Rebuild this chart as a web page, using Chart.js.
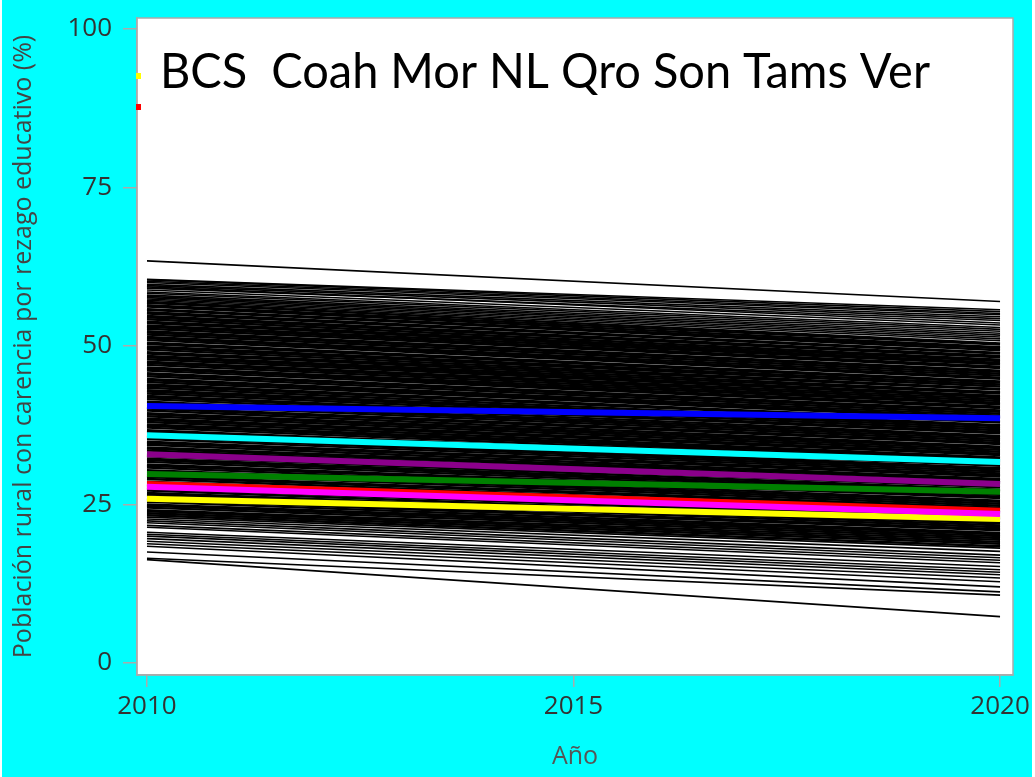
<!DOCTYPE html>
<html>
<head>
<meta charset="utf-8">
<script src="https://cdn.jsdelivr.net/npm/chart.js@4/dist/chart.umd.min.js"></script>
<style>
  html, body { margin: 0; padding: 0; background: #ffffff; }
  #frame { position: absolute; left: 2px; top: 0; width: 1030px; height: 777px; background: #00ffff; }
  #c { position: absolute; left: 0; top: 0; }
</style>
</head>
<body>
<div id="frame"></div>
<canvas id="c" width="1035" height="777"></canvas>
<script>
// ---- data ----
const years = [2010, 2020];
const xTicks = [2010, 2015, 2020];
const yTicks = [0, 25, 50, 75, 100];
const titleText = "BCS  Coah Mor NL Qro Son Tams Ver";
const yTitle = "Población rural con carencia por rezago educativo (%)";
const xTitle = "Año";

// municipalities (black lines): value in 2010 and 2020
const muni2010 = [
  63.4, 60.5, 60.4, 60.2, 60.0, 59.7, 59.5, 59.3, 59.1, 58.8, 58.5, 58.3, 58.0, 57.8, 57.6, 57.4, 57.2, 57.0,
  56.8, 56.4, 56.2, 55.8, 55.7, 55.3, 55.1, 54.7, 54.5, 54.2,
  53.8, 53.6, 53.2, 53.0, 52.7, 52.3, 52.1, 51.8, 51.4, 51.2,
  50.9, 50.5, 50.3, 49.9, 49.7, 49.4, 49.0, 48.8, 48.4, 48.2,
  47.9, 47.5, 47.3, 47.0, 46.6, 46.4, 46.1, 45.7, 45.5, 45.2,
  44.8, 44.6, 44.3, 43.9, 43.7, 43.4, 43.0, 42.8, 42.5, 42.1,
  41.9, 41.6, 41.2, 41.0, 40.7, 40.3, 40.1, 39.8, 39.4, 39.2,
  38.9, 38.5, 38.3, 38.0, 37.6, 37.4, 37.1, 36.7, 36.5, 36.2,
  35.8, 35.6, 35.3, 34.9, 34.7, 34.4, 34.0, 33.8, 33.5, 33.1,
  32.9, 32.6, 32.2, 32.0, 31.7, 31.3, 31.1, 30.8, 30.4, 30.2,
  29.9, 29.5, 29.3, 29.0, 28.6, 28.4, 28.1, 27.7, 27.5, 27.2,
  26.8, 26.6, 26.3, 25.9, 25.7, 25.4, 25.0, 24.8, 24.5, 24.1,
  23.9, 23.6, 23.3,
  23.0, 22.7, 22.4, 22.1, 21.7, 21.4, 20.6, 20.3, 20.0, 19.6, 19.2, 18.8, 18.4, 17.5, 16.5, 16.3
];
const muni2020 = [
  57.0, 55.7, 55.4, 55.1, 54.9, 54.6, 54.3, 53.6, 54.0, 53.3, 52.9, 52.6, 52.3, 52.0, 51.7, 51.4, 51.1, 50.8,
  50.4, 50.2, 49.8, 49.6, 49.3, 48.9, 48.8, 48.4, 48.2, 47.8,
  47.6, 47.3, 47.1, 46.7, 46.5, 46.1, 45.9, 45.6, 45.3, 45.0,
  44.8, 44.4, 44.2, 43.9, 43.6, 43.2, 43.1, 42.7, 42.5, 42.1,
  41.9, 41.6, 41.3, 41.0, 40.8, 40.4, 40.2, 39.8, 39.6, 39.3,
  39.0, 38.7, 38.5, 38.1, 37.9, 37.5, 37.3, 37.0, 36.7, 36.4,
  36.2, 35.8, 35.6, 35.3, 35.0, 34.7, 34.5, 34.1, 33.9, 33.6,
  33.3, 33.0, 32.8, 32.4, 32.2, 31.9, 31.6, 31.3, 31.1, 30.7,
  30.5, 30.2, 29.9, 29.6, 29.4, 29.0, 28.8, 28.5, 28.2, 27.9,
  27.7, 27.3, 27.1, 26.8, 26.5, 26.2, 26.0, 25.6, 25.4, 25.1,
  24.8, 24.5, 24.3, 23.9, 23.7, 23.4, 23.1, 22.8, 22.6, 22.2,
  22.0, 21.7, 21.4, 21.1, 20.9, 20.5, 20.3, 20.0, 19.7, 19.4,
  19.1, 18.8, 18.4,
  18.1, 17.6, 17.0, 16.6, 16.2, 15.8, 15.2, 14.7, 14.3, 13.9, 13.4, 12.8, 12.0, 11.2, 10.7, 7.3
];

// highlighted states
const stateNames = ["Ver", "Son", "Qro", "NL", "Mor", "Coah", "BCS"];
const state2010  = [40.5, 35.9, 32.9, 29.8, 27.8, 28.2, 25.9];
const state2020  = [38.6, 31.7, 28.2, 27.0, 23.5, 24.0, 22.7];
const stateColors = ["#0000ff", "#00ffff", "#8b008b", "#008000", "#ff00ff", "#ff0000", "#ffff00"];
const stateOrder  = [1, 1, 1, 1, 0, 2, 1];

// ---- build datasets ----
const datasets = [];
stateNames.forEach((n, i) => {
  datasets.push({
    label: n,
    data: [{x: years[0], y: state2010[i]}, {x: years[1], y: state2020[i]}],
    borderColor: stateColors[i],
    borderWidth: 6,
    pointRadius: 0,
    order: stateOrder[i]
  });
});
muni2010.forEach((v, i) => {
  const edge = v > 56.9 || v < 23.2;
  datasets.push({
    label: "m" + i,
    data: [{x: years[0], y: v}, {x: years[1], y: muni2020[i]}],
    borderColor: "#000000",
    borderWidth: edge ? 1.6 : 2.4,
    pointRadius: 0,
    order: 10
  });
});

const frameFont = "'Open Sans', sans-serif";

const bgPlugin = {
  id: 'bg',
  beforeDraw(chart) {
    const {ctx, chartArea: a} = chart;
    ctx.save();
    ctx.fillStyle = '#ffffff';
    ctx.fillRect(a.left, a.top, a.right - a.left, a.bottom - a.top);
    ctx.restore();
  },
  afterDraw(chart) {
    const {ctx, chartArea: a} = chart;
    ctx.save();
    ctx.strokeStyle = '#aaaaaa';
    ctx.lineWidth = 1.5;
    ctx.strokeRect(a.left, a.top, a.right - a.left, a.bottom - a.top);
    // legend remnants
    ctx.fillStyle = '#ffff00';
    ctx.fillRect(a.left - 1, 73, 5, 6);
    ctx.fillStyle = '#ff0000';
    ctx.fillRect(a.left - 1, 104, 5, 6);
    // title overlay text
    ctx.fillStyle = '#000000';
    ctx.font = "48px Lato, 'Open Sans', sans-serif";
    ctx.textBaseline = 'alphabetic';
    const w = ctx.measureText(titleText).width;
    const sx = 770 / w;
    ctx.translate(160, 88);
    ctx.scale(sx, 1);
    ctx.fillText(titleText, 0, 0);
    ctx.restore();
  }
};

new Chart(document.getElementById('c'), {
  type: 'line',
  data: { datasets },
  options: {
    responsive: false,
    animation: false,
    events: [],
    layout: { padding: { left: 0, top: 18, right: 22, bottom: 0 } },
    plugins: { legend: { display: false }, tooltip: { enabled: false } },
    scales: {
      x: {
        type: 'linear',
        min: 2009.883,
        max: 2020.152,
        afterBuildTicks(s) { s.ticks = xTicks.map(v => ({value: v})); },
        afterFit(s) { s.height = 102; s.paddingLeft = 0; s.paddingRight = 0; },
        ticks: { color: '#333', font: { family: frameFont, size: 26 }, padding: 4, maxRotation: 0,
                 callback: v => String(v) },
        grid: { drawOnChartArea: false, tickLength: 12, color: '#aaaaaa', lineWidth: 1.5 },
        border: { color: '#aaaaaa', width: 1.5 },
        title: { display: true, text: xTitle, color: '#555', font: { family: frameFont, size: 25 }, padding: { top: 0, bottom: 5 } }
      },
      y: {
        min: -1.9,
        max: 101.7,
        afterBuildTicks(s) { s.ticks = yTicks.map(v => ({value: v})); },
        afterFit(s) { s.width = 137; s.paddingTop = 0; s.paddingBottom = 0; },
        ticks: { color: '#333', font: { family: frameFont, size: 26 }, padding: 11, callback: v => String(v) },
        grid: { drawOnChartArea: false, tickLength: 14, color: '#aaaaaa', lineWidth: 1.5 },
        border: { color: '#aaaaaa', width: 1.5 },
        title: { display: true, text: yTitle, color: '#444', font: { family: frameFont, size: 25 }, padding: { top: 9, bottom: 0 } }
      }
    }
  },
  plugins: [bgPlugin]
});
</script>
</body>
</html>
